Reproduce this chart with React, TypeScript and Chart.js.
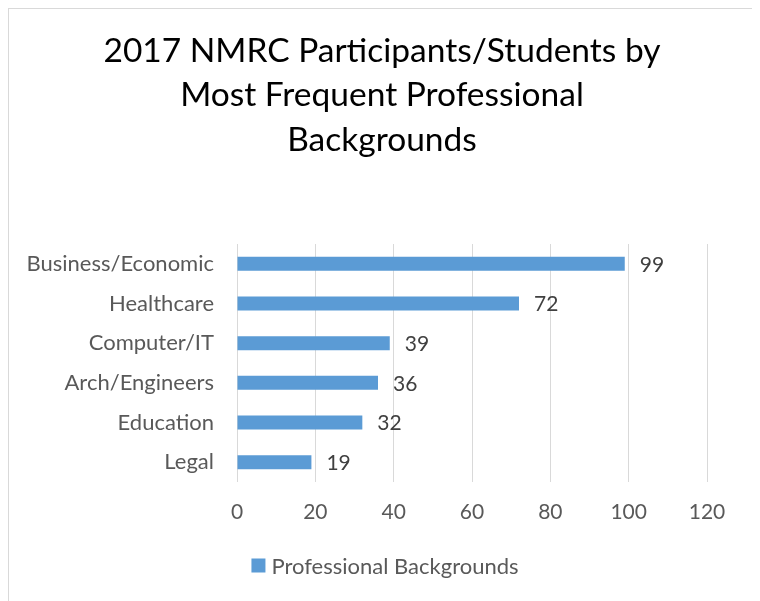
import React, { useEffect, useRef } from "react";
import { Chart, registerables } from "chart.js";

Chart.register(...registerables);

const categories = [
  "Business/Economic",
  "Healthcare",
  "Computer/IT",
  "Arch/Engineers",
  "Education",
  "Legal",
];
const values = [99, 72, 39, 36, 32, 19];
const seriesName = "Professional Backgrounds";
const titleLines = [
  "2017 NMRC Participants/Students by",
  "Most Frequent Professional",
  "Backgrounds",
];
const xMin = 0;
const xMax = 120;
const xStep = 20;

const FONT = "Lato";
const BAR_COLOR = "#5B9BD5";

const dataLabelPlugin = {
  id: "dataLabels",
  afterDatasetsDraw(chart: any) {
    const ctx = chart.ctx;
    const meta = chart.getDatasetMeta(0);
    ctx.save();
    ctx.font = `21px ${FONT}`;
    ctx.fillStyle = "#404040";
    ctx.textAlign = "left";
    ctx.textBaseline = "middle";
    meta.data.forEach((bar: any, i: number) => {
      ctx.fillText(String(values[i]), bar.x + 15, bar.y + 1);
    });
    ctx.restore();
  },
};

const titleLegendPlugin = {
  id: "titleLegend",
  afterDraw(chart: any) {
    const ctx = chart.ctx;
    ctx.save();
    // title
    ctx.font = `33.5px ${FONT}`;
    ctx.fillStyle = "#000000";
    ctx.textAlign = "center";
    ctx.textBaseline = "middle";
    const cx = chart.width / 2 + 1;
    titleLines.forEach((line, i) => {
      ctx.fillText(line, cx, 42 + i * 44.4);
    });
    // legend
    ctx.font = `22px ${FONT}`;
    const tw = ctx.measureText(seriesName).width;
    const box = 14;
    const gap = 6;
    const total = box + gap + tw;
    const lx = chart.width / 2 + 4 - total / 2;
    const ly = 556.5;
    ctx.fillStyle = BAR_COLOR;
    ctx.fillRect(lx, ly - box / 2, box, box);
    ctx.fillStyle = "#595959";
    ctx.textAlign = "left";
    ctx.fillText(seriesName, lx + box + gap, ly + 1);
    ctx.restore();
  },
};

export default function App() {
  const ref = useRef<HTMLCanvasElement | null>(null);

  useEffect(() => {
    if (!ref.current) return;
    const chart = new Chart(ref.current, {
      type: "bar",
      data: {
        labels: categories,
        datasets: [
          {
            label: seriesName,
            data: values,
            backgroundColor: BAR_COLOR,
            borderWidth: 0,
            barPercentage: 0.353,
            categoryPercentage: 1,
          },
        ],
      },
      options: {
        indexAxis: "y",
        animation: false,
        responsive: false,
        devicePixelRatio: 1,
        layout: { padding: { left: 0, right: 46, top: 235, bottom: 61 } },
        scales: {
          x: {
            min: xMin,
            max: xMax,
            ticks: {
              stepSize: xStep,
              color: "#595959",
              font: { family: FONT, size: 21 },
              padding: 18,
            },
            grid: { color: "#d9d9d9", lineWidth: 1, drawTicks: false },
            border: { display: false },
            afterFit(scale: any) {
              scale.height = 58;
            },
          },
          y: {
            ticks: {
              color: "#595959",
              font: { family: FONT, size: 22 },
              padding: 23,
            },
            grid: { display: false, drawTicks: false },
            border: { display: false },
            afterFit(scale: any) {
              scale.width = 228;
            },
          },
        },
        plugins: {
          title: { display: false },
          legend: { display: false },
          tooltip: { enabled: false },
        },
      },
      plugins: [dataLabelPlugin, titleLegendPlugin],
    });
    return () => chart.destroy();
  }, []);

  return (
    <div
      style={{
        width: 744,
        height: 592,
        borderTop: "1px solid #d9d9d9",
        borderLeft: "1px solid #d9d9d9",
        borderRight: "1px solid #d9d9d9",
        background: "#fff",
      }}
    >
      <canvas ref={ref} width={744} height={592} style={{ display: "block" }} />
    </div>
  );
}
